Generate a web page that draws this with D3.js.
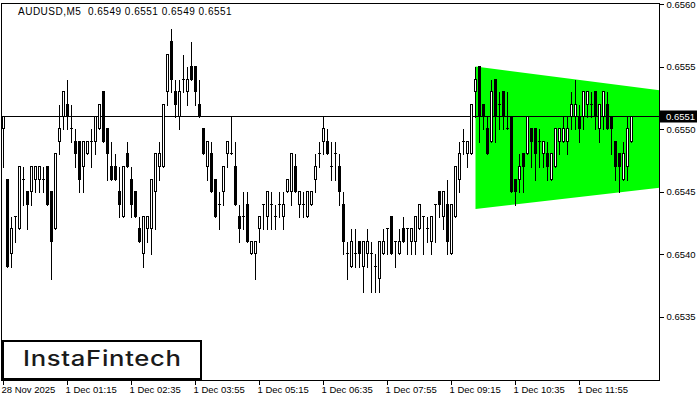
<!DOCTYPE html>
<html><head><meta charset="utf-8">
<script src="https://cdn.jsdelivr.net/npm/d3@7"></script>
<style>body{margin:0;background:#fff;}svg{display:block;}</style>
</head><body>
<svg id="c" width="700" height="400"></svg>
<script>
const titleText = "AUDUSD,M5  0.6549 0.6551 0.6549 0.6551";
const logoText = "InstaFintech";
const open = [
.6550,.6546,.6540,.6543,.6542,.6546,.6545,.6545,.6546,.6546,
.6546,.6547,.6545,.6542,.6549,.6551,.6552,.6550,.6549,.6549,
.6547,.6548,.6549,.6549,.6550,.6553,.6550,.6547,.6547,.6545,
.6543,.6548,.6546,.6545,.6542,.6540,.6542,.6542,.6545,.6547,
.6547,.6553,.6557,.6553,.6551,.6554,.6553,.6555,.6555,.6552,
.6550,.6547,.6548,.6546,.6544,.6545,.6548,.6548,.6547,.6543,
.6543,.6544,.6540,.6540,.6542,.6544,.6543,.6544,.6543,.6544,
.6543,.6545,.6545,.6547,.6544,.6544,.6543,.6544,.6546,.6548,
.6549,.6549,.6547,.6548,.6547,.6544,.6540,.6539,.6540,.6541,
.6539,.6540,.6540,.6539,.6538,.6540,.6542,.6543,.6541,.6540,
.6542,.6542,.6541,.6541,.6542,.6543,.6542,.6541,.6544,.6545,
.6543,.6544,.6540,.6543,.6546,.6549,.6548,.6548,.6553,.6555,
.6552,.6550,.6549,.6554,.6552,.6553,.6550,.6551,.6546,.6546,
.6548,.6548,.6550,.6550,.6549,.6548,.6548,.6546,.6547,.6549,
.6549,.6549,.6551,.6551,.6551,.6551,.6552,.6552,.6553,.6550,
.6551,.6552,.6551,.6549,.6548,.6546,.6547,.6549];
const high = [
.6551,.6546,.6543,.6543,.6547,.6547,.6545,.6547,.6547,.6547,
.6547,.6547,.6545,.6548,.6552,.6553,.6554,.6552,.6550,.6549,
.6549,.6549,.6550,.6551,.6552,.6553,.6550,.6549,.6548,.6547,
.6547,.6549,.6547,.6545,.6543,.6543,.6543,.6546,.6548,.6549,
.6552,.6556,.6558,.6554,.6554,.6556,.6555,.6557,.6555,.6554,
.6550,.6549,.6549,.6546,.6545,.6547,.6549,.6551,.6549,.6544,
.6545,.6545,.6541,.6541,.6543,.6544,.6545,.6545,.6544,.6545,
.6545,.6546,.6548,.6548,.6545,.6545,.6545,.6545,.6548,.6549,
.6551,.6550,.6549,.6549,.6548,.6545,.6541,.6542,.6542,.6541,
.6541,.6542,.6541,.6540,.6541,.6542,.6542,.6543,.6541,.6542,
.6543,.6542,.6542,.6543,.6544,.6543,.6543,.6543,.6544,.6545,
.6545,.6546,.6544,.6547,.6549,.6550,.6549,.6552,.6555,.6555,
.6552,.6551,.6554,.6554,.6553,.6553,.6553,.6551,.6546,.6548,
.6548,.6551,.6550,.6550,.6550,.6549,.6549,.6548,.6550,.6550,
.6551,.6551,.6553,.6554,.6552,.6553,.6553,.6553,.6553,.6552,
.6553,.6553,.6551,.6549,.6548,.6549,.6551,.6551];
const low = [
.6547,.6539,.6539,.6541,.6542,.6544,.6542,.6544,.6545,.6545,
.6545,.6544,.6538,.6542,.6548,.6550,.6550,.6549,.6547,.6545,
.6545,.6548,.6547,.6548,.6550,.6549,.6546,.6546,.6546,.6543,
.6543,.6547,.6543,.6543,.6541,.6539,.6541,.6540,.6542,.6546,
.6547,.6552,.6553,.6551,.6550,.6553,.6552,.6554,.6552,.6551,
.6548,.6546,.6545,.6543,.6542,.6544,.6547,.6548,.6544,.6541,
.6542,.6541,.6540,.6538,.6541,.6542,.6542,.6542,.6542,.6543,
.6542,.6545,.6544,.6545,.6543,.6543,.6543,.6544,.6545,.6547,
.6548,.6548,.6546,.6546,.6544,.6540,.6538,.6539,.6539,.6539,
.6537,.6539,.6537,.6537,.6537,.6540,.6540,.6540,.6539,.6540,
.6541,.6540,.6540,.6540,.6542,.6540,.6541,.6540,.6541,.6543,
.6542,.6540,.6540,.6543,.6545,.6548,.6547,.6548,.6551,.6549,
.6550,.6548,.6549,.6549,.6550,.6550,.6550,.6545,.6544,.6545,
.6545,.6548,.6547,.6546,.6547,.6547,.6546,.6546,.6547,.6548,
.6549,.6548,.6550,.6550,.6549,.6550,.6551,.6551,.6550,.6549,
.6550,.6550,.6548,.6546,.6545,.6546,.6546,.6549];
const close = [
.6551,.6539,.6542,.6543,.6547,.6546,.6544,.6547,.6547,.6547,
.6546,.6544,.6541,.6548,.6550,.6553,.6551,.6550,.6548,.6546,
.6549,.6549,.6549,.6551,.6552,.6549,.6548,.6546,.6546,.6544,
.6547,.6547,.6544,.6543,.6541,.6543,.6543,.6546,.6548,.6548,
.6552,.6556,.6554,.6552,.6553,.6554,.6554,.6554,.6553,.6551,
.6548,.6549,.6545,.6543,.6544,.6547,.6549,.6548,.6544,.6542,
.6543,.6541,.6541,.6541,.6543,.6544,.6545,.6544,.6543,.6544,
.6544,.6546,.6548,.6545,.6545,.6544,.6545,.6545,.6547,.6548,
.6550,.6548,.6547,.6548,.6545,.6541,.6540,.6541,.6540,.6540,
.6541,.6541,.6540,.6539,.6541,.6541,.6542,.6540,.6541,.6541,
.6541,.6542,.6542,.6543,.6544,.6543,.6542,.6543,.6544,.6544,
.6545,.6541,.6544,.6547,.6548,.6549,.6549,.6552,.6554,.6551,
.6551,.6548,.6553,.6551,.6552,.6551,.6550,.6545,.6545,.6547,
.6547,.6551,.6549,.6548,.6549,.6549,.6547,.6548,.6550,.6550,
.6550,.6550,.6552,.6552,.6550,.6553,.6553,.6552,.6551,.6552,
.6553,.6550,.6550,.6547,.6547,.6548,.6550,.6551];
const yTicks = [0.6535, 0.6540, 0.6545, 0.6550, 0.6555, 0.6560];
const tickTimes = ["28 Nov 23:55","1 Dec 01:15","1 Dec 02:35","1 Dec 03:55","1 Dec 05:15","1 Dec 06:35","1 Dec 07:55","1 Dec 09:15","1 Dec 10:35","1 Dec 11:55"];
const tickLabels = ["28 Nov 2025","1 Dec 01:15","1 Dec 02:35","1 Dec 03:55","1 Dec 05:15","1 Dec 06:35","1 Dec 07:55","1 Dec 09:15","1 Dec 10:35","1 Dec 11:55"];
const bidPrice = 0.6551;
const patternTimes = ["1 Dec 09:45","1 Dec 13:35"];
const patternUpper = [0.6555, 0.65531];
const patternLower = [0.65436, 0.65453];

// categories (5-minute bars), extended to the right edge of the chart
const fmt = d3.timeFormat("%-d %b %H:%M");
const SLOTS = 165;
const categories = [];
const firstBar = new Date(2025,10,28,23,55);
const mondayOpen = new Date(2025,11,1,0,0);
for (let i=0;i<SLOTS;i++){
  categories.push(fmt(i===0 ? firstBar : d3.timeMinute.offset(mondayOpen,5*(i-1))));
}
const bars = open.map((o,i)=>({t:categories[i],o,h:high[i],l:low[i],c:close[i]}));

const svg = d3.select("#c");
const L=1.5, T=3.5, R=659.5, B=380.5;
const x = d3.scaleBand().domain(categories).range([1.5, 1.5+4*SLOTS]).padding(0);
const cx = t => x(t) + x.bandwidth()/2;
const y = d3.scaleLinear().domain([0.6535,0.6560]).range([316.5,4]);
const snap = v => Math.round(v-0.5)+0.5;

svg.append("defs").append("clipPath").attr("id","plot")
  .append("rect").attr("x",L).attr("y",T).attr("width",R-L).attr("height",B-T);

const plot = svg.append("g").attr("clip-path","url(#plot)");

// pattern (symmetrical triangle)
const poly = [
  [cx(patternTimes[0]), y(patternUpper[0])],
  [cx(patternTimes[1]), y(patternUpper[1])],
  [cx(patternTimes[1]), y(patternLower[1])],
  [cx(patternTimes[0]), y(patternLower[0])]
];
plot.append("path").attr("d","M"+poly.map(p=>p.join(",")).join("L")+"Z")
  .attr("fill","#00ff00");

// bid line
plot.append("line").attr("x1",L).attr("x2",R)
  .attr("y1",snap(y(bidPrice))).attr("y2",snap(y(bidPrice)))
  .attr("stroke","#000").attr("stroke-width",1).attr("shape-rendering","crispEdges");

// candles
const g = plot.append("g").attr("shape-rendering","crispEdges");
const cg = g.selectAll("g.c").data(bars).join("g");
cg.append("line")
  .attr("x1",d=>cx(d.t)).attr("x2",d=>cx(d.t))
  .attr("y1",d=>snap(y(d.h))).attr("y2",d=>snap(y(d.l))+1)
  .attr("stroke","#000");
cg.filter(d=>d.o!==d.c).append("rect")
  .attr("x",d=>cx(d.t)-1).attr("width",2)
  .attr("y",d=>snap(y(Math.max(d.o,d.c))))
  .attr("height",d=>snap(y(Math.min(d.o,d.c)))-snap(y(Math.max(d.o,d.c))))
  .attr("fill",d=>d.c>d.o?"#fff":"#000").attr("stroke","#000");
cg.filter(d=>d.o===d.c).append("line")
  .attr("x1",d=>cx(d.t)-1.5).attr("x2",d=>cx(d.t)+1.5)
  .attr("y1",d=>snap(y(d.c))).attr("y2",d=>snap(y(d.c)))
  .attr("stroke","#000");

// frame
svg.append("rect").attr("x",L).attr("y",T).attr("width",R-L).attr("height",B-T)
  .attr("fill","none").attr("stroke","#000").attr("shape-rendering","crispEdges");

const font = "'Liberation Sans', Arial, sans-serif";
// right axis
const ya = svg.append("g").attr("transform",`translate(${R},0)`)
  .call(d3.axisRight(y).tickValues(yTicks).tickSize(4).tickPadding(3).tickFormat(d3.format(".4f")));
ya.select(".domain").remove();
ya.selectAll("line").attr("stroke","#000").attr("shape-rendering","crispEdges");
ya.selectAll("text").attr("font-family",font).attr("font-size",9.5).attr("fill","#000");

// bid label
const by = y(bidPrice);
svg.append("rect").attr("x",660).attr("y",by-6).attr("width",37).attr("height",12).attr("fill","#000");
svg.append("text").attr("x",666).attr("y",by).attr("dy","0.35em")
  .attr("font-family",font).attr("font-size",9.5).attr("fill","#fff").text(d3.format(".4f")(bidPrice));

// bottom axis
const xa = svg.append("g").attr("transform",`translate(0,${B})`)
  .call(d3.axisBottom(x).tickValues(tickTimes).tickSize(4).tickPadding(2)
    .tickFormat((d,i)=>tickLabels[i]));
xa.select(".domain").remove();
xa.selectAll(".tick").attr("transform",d=>`translate(${cx(d)},0)`);
xa.selectAll("line").attr("stroke","#000").attr("shape-rendering","crispEdges");
xa.selectAll("text").attr("text-anchor","start").attr("x",-2)
  .attr("font-family",font).attr("font-size",9.5).attr("fill","#000");

// title
svg.append("text").attr("x",18).attr("y",15).attr("font-family",font).attr("font-size",10)
  .attr("letter-spacing",0.5)
  .attr("fill","#000").attr("xml:space","preserve").style("white-space","pre").text(titleText);

// logo
svg.append("rect").attr("x",3).attr("y",341).attr("width",198).attr("height",38)
  .attr("fill","#fff").attr("stroke","#000").attr("stroke-width",2);
const sx = 1.22;
svg.append("text").attr("transform",`scale(${sx},1)`)
  .attr("x",23/sx).attr("y",366).attr("font-family","Inter, 'Open Sans', sans-serif")
  .attr("font-size",21).attr("font-weight",500).attr("fill","#1a1a1a")
  .attr("textLength",158/sx).attr("lengthAdjust","spacing").text(logoText);
</script>
</body></html>
